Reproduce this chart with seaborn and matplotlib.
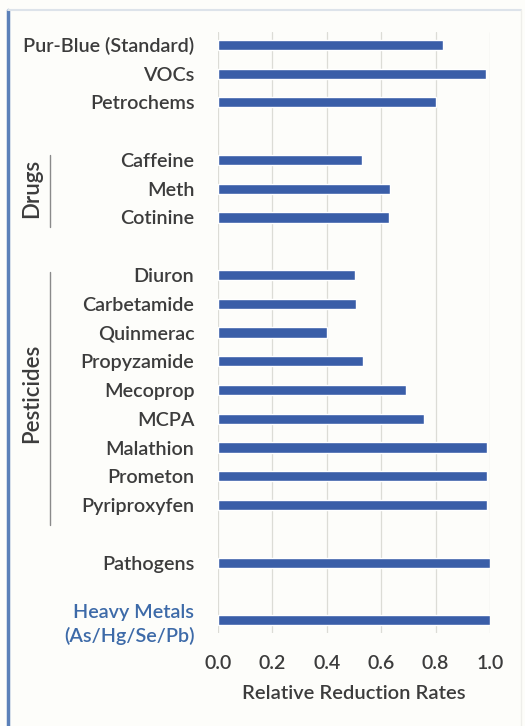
import numpy as np
import pandas as pd
import matplotlib.pyplot as plt
import matplotlib.transforms as mtransforms
from matplotlib.lines import Line2D
import seaborn as sns

sns.set_style("white")
plt.rcParams['font.family'] = ['Lato', 'DejaVu Sans']

# data
categories = ['Pur-Blue (Standard)', 'VOCs', 'Petrochems',
              'Caffeine', 'Meth', 'Cotinine',
              'Diuron', 'Carbetamide', 'Quinmerac', 'Propyzamide', 'Mecoprop',
              'MCPA', 'Malathion', 'Prometon', 'Pyriproxyfen',
              'Pathogens', 'Heavy Metals\n(As/Hg/Se/Pb)']
rates = [0.826, 0.984, 0.80,
         0.53, 0.632, 0.628,
         0.504, 0.507, 0.40, 0.534, 0.692,
         0.757, 0.99, 0.99, 0.99,
         1.0, 1.0]
# spacer slots between the groups (empty categories)
order = (categories[0:3] + [' '] + categories[3:6] + ['  '] + categories[6:15]
         + ['   '] + categories[15:16] + ['    '] + categories[16:17])
groups = {'Drugs': (3.82, 6.32, 5.0), 'Pesticides': (7.88, 16.7, 12.13)}
xticks = [0.0, 0.2, 0.4, 0.6, 0.8, 1.0]

df = pd.DataFrame({'Category': categories, 'Rate': rates})

bar_color = '#3a5ea8'
text_color = '#3c3c3c'

fig = plt.figure(figsize=(5.25, 7.26), dpi=100)
fig.patch.set_facecolor('#fdfdfa')
ax = fig.add_axes([218 / 525, 1 - 633 / 726, 272 / 525, 601 / 726])
ax.set_facecolor('#fdfdfa')

sns.barplot(data=df, x='Rate', y='Category', order=order, color=bar_color,
            width=0.35, saturation=1, ax=ax)

ax.set_xlim(0, 1.0)
ax.set_ylim(20.45, -0.45)
ax.set_xticks(xticks)
ax.set_xticklabels([f'{t:.1f}' for t in xticks], fontsize=14,
                   color=text_color, fontweight='semibold')
ax.xaxis.grid(True, color='#dcdcd6', linewidth=0.9)
ax.set_axisbelow(True)
for s in ax.spines.values():
    s.set_visible(False)
ax.tick_params(axis='y', length=0, pad=17, labelcolor=text_color)
ax.tick_params(axis='x', length=0, pad=16)
for lbl in ax.get_yticklabels():
    lbl.set_fontsize(14.2)
    lbl.set_fontweight('semibold')
    if lbl.get_text().startswith('Heavy'):
        lbl.set_color('#3d6aa8')
        lbl.set_linespacing(1.4)
ax.set_ylabel('')
ax.set_xlabel('Relative Reduction Rates', fontsize=14.5, color=text_color,
              fontweight='semibold', labelpad=9)

# group brackets on the left
trans = mtransforms.blended_transform_factory(fig.transFigure, ax.transData)
for name, (y0, y1, yc) in groups.items():
    ax.plot([50 / 525, 50 / 525], [y0, y1], transform=trans, color='#8a8a8a',
            linewidth=1.0, clip_on=False)
    ax.text(32 / 525, yc, name, transform=trans, rotation=90, ha='center',
            va='center', fontsize=16, color=text_color, fontweight='semibold')

# picture frame
fig.add_artist(Line2D([7.5 / 525, 7.5 / 525], [0, 1 - 10 / 726],
                      transform=fig.transFigure, color='#5b80b8', linewidth=2.5))
fig.add_artist(Line2D([7.5 / 525, 521 / 525], [1 - 10 / 726, 1 - 10 / 726],
                      transform=fig.transFigure, color='#dde3ea', linewidth=1.5))
fig.add_artist(Line2D([521 / 525, 521 / 525], [0, 1 - 10 / 726],
                      transform=fig.transFigure, color='#eeeeea', linewidth=1.0))

plt.savefig('out.png', dpi=100, facecolor=fig.get_facecolor())
